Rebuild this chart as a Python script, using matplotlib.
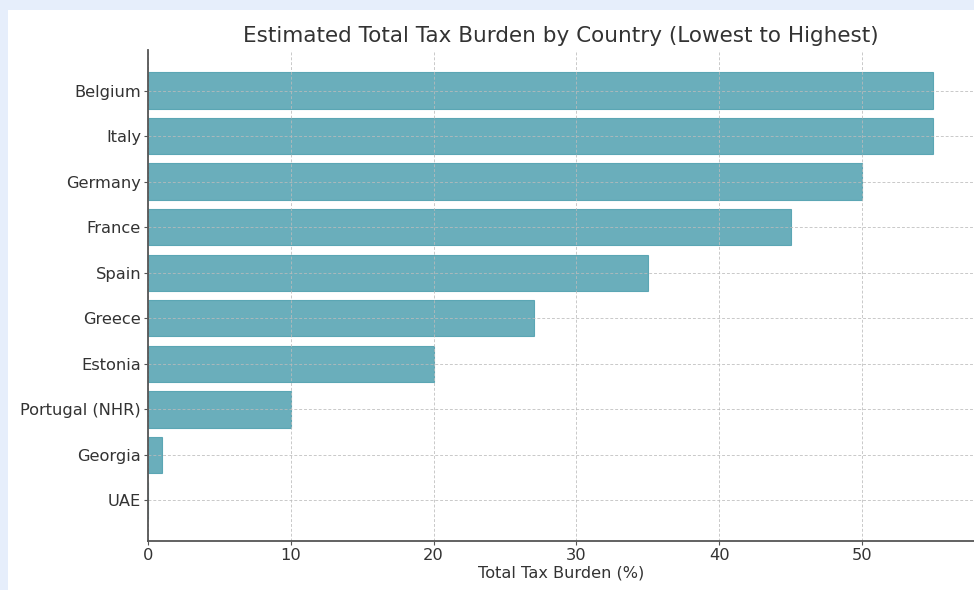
import matplotlib.pyplot as plt
from matplotlib.patches import Rectangle

# Tax burden estimates, highest first (top of chart)
countries = ['Belgium', 'Italy', 'Germany', 'France', 'Spain', 'Greece',
             'Estonia', 'Portugal (NHR)', 'Georgia', 'UAE']
burden = [55, 55, 50, 45, 35, 27, 20, 10, 1, 0]
xticks = [0, 10, 20, 30, 40, 50]

fig = plt.figure(figsize=(9.74, 5.9), dpi=100, facecolor='#e6eefb')
# white card on the light blue page
fig.patches.append(Rectangle((8 / 974, 0), 1, 1 - 10 / 590, transform=fig.transFigure,
                             facecolor='white', edgecolor='none', zorder=-10))

ax = fig.add_axes([148 / 974, 49 / 590, 1 - 148 / 974, (541 - 50) / 590])
ax.set_facecolor('none')

ax.barh(countries, burden, height=0.8, color='#459aaa', alpha=0.8,
        edgecolor='#459aaa', linewidth=0.8, zorder=2)
ax.invert_yaxis()

ax.set_xlim(0, 57.85)
ax.set_xticks(xticks)
ax.grid(True, linestyle=(0, (3, 2)), linewidth=0.7, color='#bbbbbb', alpha=0.8)
ax.set_axisbelow(False)

for side in ['top', 'right']:
    ax.spines[side].set_visible(False)
for side in ['left', 'bottom']:
    ax.spines[side].set_color('#555555')
    ax.spines[side].set_linewidth(1.3)
    ax.spines[side].set_zorder(4)

ax.tick_params(axis='both', colors='#555555', labelcolor='#333333',
               labelsize=11.7, length=3, pad=2)
ax.set_xlabel('Total Tax Burden (%)', fontsize=11.6, color='#333333', labelpad=2)
ax.set_title('Estimated Total Tax Burden by Country (Lowest to Highest)',
             fontsize=15.5, color='#333333', pad=6)

fig.savefig('out.png', dpi=100, facecolor=fig.get_facecolor())
